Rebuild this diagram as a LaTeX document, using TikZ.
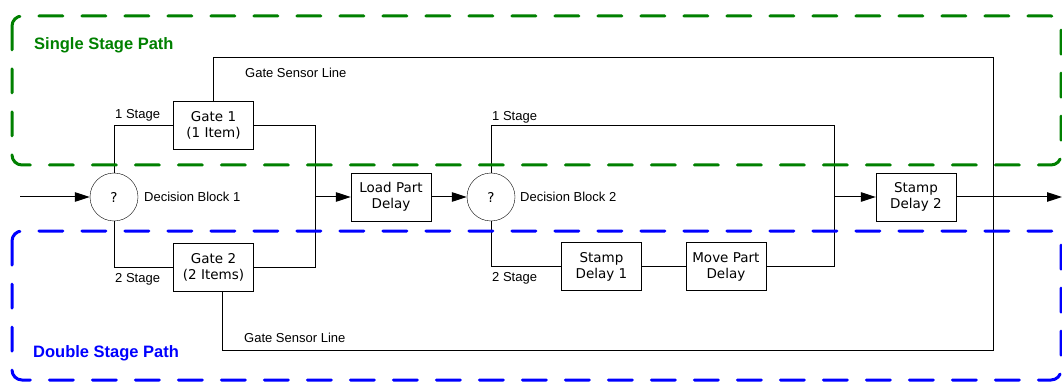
\documentclass[tikz,border=0pt]{standalone}
\usepackage{fontspec}
\setmainfont{Liberation Sans}
\newfontfamily\boxfont{DejaVu Sans}
\usepackage{tikz}
\usetikzlibrary{arrows.meta,positioning}
\definecolor{PathGreen}{HTML}{008000}
\definecolor{PathBlue}{HTML}{0000FF}
\tikzset{%
  block/.style={draw,fill=white,align=center,minimum width=80pt,
    minimum height=48pt,inner sep=0pt,font=\boxfont\fontsize{13.5}{16}\selectfont},
  decision/.style={draw,circle,fill=white,minimum size=48pt,inner sep=0pt,
    font=\boxfont\fontsize{13.5}{16}\selectfont},
  tag/.style={anchor=west,inner sep=0pt,font=\fontsize{13}{15}\selectfont},
  wire/.style={line width=1pt},
  flow/.style={-{Triangle[length=15pt,width=9.5pt]},line width=1pt},
  zonebox/.style={line width=3pt,rounded corners=10pt,
    dash pattern=on 24pt off 19pt,line cap=round},
  zonetitle/.style={anchor=west,inner sep=0pt,
    font=\bfseries\fontsize{16.5}{19}\selectfont}
}

\begin{document}
\begin{tikzpicture}[x=1pt,y=-1pt]
  \useasboundingbox (0,0) rectangle (1062,382);

  \node[decision] (dec1) at (114,197) {?};
  \node[block] (gate1) at (213.5,125.5) {Gate 1\\(1 Item)};
  \node[block] (gate2) at (213.5,267.5) {Gate 2\\(2 Items)};
  \node[block] (load) at (391,197) {Load Part\\Delay};
  \node[decision] (dec2) at (491,197) {?};
  \node[block] (stamp1) at (601.5,266.5) {Stamp\\Delay 1};
  \node[block, right=44pt of stamp1] (move) {Move Part\\Delay};
  \node[block] (stamp2) at (916,197) {Stamp\\Delay 2};

  \node[tag] (dec1lbl) at (144,197) {Decision Block 1};
  \node[tag] (dec2lbl) at (520,197) {Decision Block 2};
  \node[tag] (one1) at (115,115) {1 Stage};
  \node[tag] (two1) at (115,279) {2 Stage};
  \node[tag] (one2) at (492,117) {1 Stage};
  \node[tag] (two2) at (492,278) {2 Stage};
  \node[tag] (senslblA) at (245,73) {Gate Sensor Line};
  \node[tag] (senslblB) at (244,338) {Gate Sensor Line};

  \coordinate (in) at (20,197);
  \coordinate (join1) at (315,197);
  \coordinate (top2) at (834,126);
  \coordinate (join2) at (834,197);
  \coordinate (out) at (1062,197);
  \coordinate (senstop) at (993,58);
  \coordinate (sensbot) at (993,350);

  \draw[flow] (in) -- (dec1.west);
  \draw[wire] (dec1.north) |- (gate1.west);
  \draw[wire] (dec1.south) |- (gate2.west);
  \draw[wire] (gate1.east) -| (join1);
  \draw[wire] (gate2.east) -| (join1);
  \draw[flow] (join1) -- (load.west);
  \draw[flow] (load.east) -- (dec2.west);
  \draw[wire] (dec2.north) |- (top2) -- (join2);
  \draw[wire] (dec2.south) |- (stamp1.west);
  \draw[wire] (stamp1.east) -- (move.west);
  \draw[wire] (move.east) -| (join2);
  \draw[flow] (join2) -- (stamp2.west);
  \draw[flow] (stamp2.east) -- (out);
  \draw[wire] (gate1.north) |- (senstop) -- (sensbot) -| ([xshift=9pt]gate2.south);

  \draw[zonebox, PathGreen] (12,16) rectangle (1061,165);
  \draw[zonebox, PathBlue] (12,231) rectangle (1061,380);
  \node[zonetitle, PathGreen] (singlettl) at (34,45) {Single Stage Path};
  \node[zonetitle, PathBlue] (doublettl) at (33,353) {Double Stage Path};
\end{tikzpicture}
\end{document}
